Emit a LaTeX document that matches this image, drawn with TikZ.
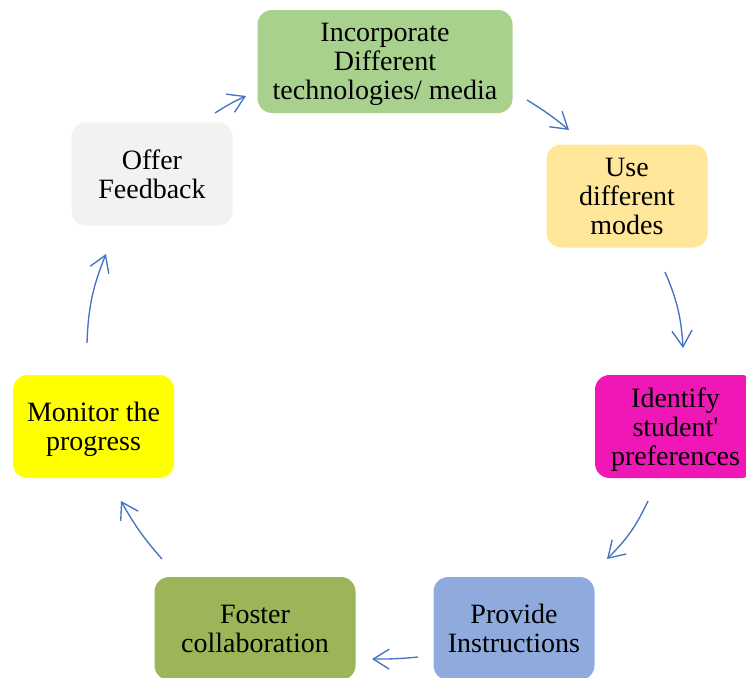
\documentclass[tikz,border=0pt]{standalone}
\usepackage{fontspec}
\setmainfont{Liberation Serif}
\usetikzlibrary{arrows.meta}
\definecolor{cgreen}{HTML}{A9D18E}
\definecolor{corange}{HTML}{FFE699}
\definecolor{cmagenta}{HTML}{EF17B5}
\definecolor{cblue}{HTML}{8FAADC}
\definecolor{colive}{HTML}{9BB558}
\definecolor{cyellow}{HTML}{FFFF00}
\definecolor{cgray}{HTML}{F2F2F2}
\definecolor{carrow}{HTML}{4472C4}
\tikzset{
  stepbox/.style={rectangle, rounded corners=11pt, inner sep=0pt, align=center,
    minimum width=120.75pt, minimum height=77.25pt, text depth=0pt,
    font=\fontsize{21}{21.75}\selectfont, text=black},
  flow/.style={draw=carrow, line width=1pt,
    -{Straight Barb[length=12pt,width=15pt,line width=1pt]}},
}
\begin{document}
\begin{tikzpicture}[x=0.75pt,y=-0.75pt]
\useasboundingbox (0,0) rectangle (746,678);
\clip (0,0) rectangle (746,678);
\fill[white] (0,0) rectangle (746,678);

\node[stepbox, fill=cgreen, minimum width=191.25pt] (inc) at (385,61.5) {Incorporate\\Different\\technologies/ media};
\node[stepbox, fill=corange] (use) at (627,196) {Use\\different\\modes};
\node[stepbox, fill=cmagenta] (ide) at (675.5,426.5) {Identify\\student\textquotesingle\\preferences};
\node[stepbox, fill=cblue] (pro) at (514,628.5) {Provide\\Instructions};
\node[stepbox, fill=colive, minimum width=150.75pt] (fos) at (255,628.5) {Foster\\collaboration};
\node[stepbox, fill=cyellow] (mon) at (93.5,426.5) {Monitor the\\progress};
\node[stepbox, fill=cgray] (off) at (152,174) {Offer\\Feedback};

\coordinate (a1s) at (215,113); \coordinate (a1e) at (246,96);
\coordinate (a2s) at (527,100); \coordinate (a2e) at (569,130);
\coordinate (a3s) at (665,272); \coordinate (a3e) at (683,348);
\coordinate (a4s) at (648,501); \coordinate (a4e) at (607,559);
\coordinate (a5s) at (418,657); \coordinate (a5e) at (372,659);
\coordinate (a6s) at (162,559); \coordinate (a6e) at (121,501);
\coordinate (a7s) at (87,343);  \coordinate (a7e) at (106,254);

\draw[flow] (a1s) to[bend left=4] (a1e);
\draw[flow] (a2s) to[bend left=4] (a2e);
\draw[flow] (a3s) to[bend left=10] (a3e);
\draw[flow] (a4s) to[bend left=10] (a4e);
\draw[flow] (a5s) to[bend left=3] (a5e);
\draw[flow] (a6s) to[bend left=6] (a6e);
\draw[flow] (a7s) to[bend left=10] (a7e);
\end{tikzpicture}
\end{document}
